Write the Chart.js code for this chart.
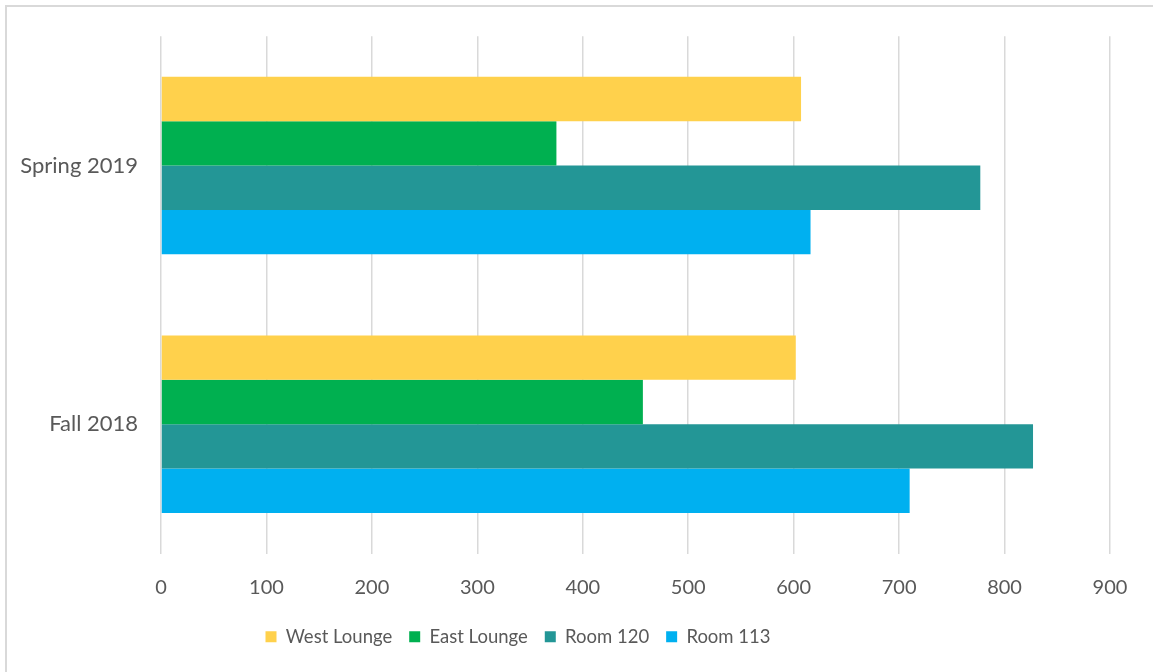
<!DOCTYPE html>
<html>
<head>
<meta charset="utf-8">
<script src="https://cdn.jsdelivr.net/npm/chart.js@4"></script>
<style>
    html, body { margin: 0; padding: 0; background: #fff; overflow: hidden; }
    #frame { position: absolute; left: 5px; top: 5px; width: 1160px; height: 700px; border: 2px solid #d9d9d9; box-sizing: border-box; }
    #wrap { position: absolute; left: 0; top: 0; width: 1153px; height: 672px; }
</style>
</head>
<body>
<div id="frame"></div>
<div id="wrap"><canvas id="chart"></canvas></div>
<script>
//Semestres (haut -> bas)
const semesters = ['Spring 2019', 'Fall 2018'];

//Valeurs par salle
const westLounge = [607, 602];
const eastLounge = [375, 457];
const room120 = [777, 827];
const room113 = [616, 710];

const xTicks = [0, 100, 200, 300, 400, 500, 600, 700, 800, 900];

const textColor = '#595959';
const fontFamily = "Lato, 'Open Sans', sans-serif";

//Décale la légende un peu vers la gauche (comme dans Excel)
const legendShift = {
    id: 'legendShift',
    afterLayout(chart) {
        if (chart.legend) {
            chart.legend.left -= 40;
            chart.legend.right -= 40;
        }
    }
};

document.addEventListener('DOMContentLoaded', () => {
    const ctx = document.getElementById('chart').getContext('2d');
    new Chart(ctx, {
        type: 'bar',
        data: {
            labels: semesters,
            datasets: [
                { label: 'West Lounge', data: westLounge, backgroundColor: '#FFD14C' },
                { label: 'East Lounge', data: eastLounge, backgroundColor: '#00B050' },
                { label: 'Room 120', data: room120, backgroundColor: '#239696' },
                { label: 'Room 113', data: room113, backgroundColor: '#00B0F0' }
            ]
        },
        options: {
            indexAxis: 'y',
            responsive: true,
            maintainAspectRatio: false,
            animation: false,
            datasets: {
                bar: { categoryPercentage: 0.686, barPercentage: 1.0, borderWidth: 0 }
            },
            layout: { padding: { left: 6, top: 31, right: 43, bottom: 16 } },
            plugins: {
                tooltip: { enabled: false },
                legend: {
                    position: 'bottom',
                    labels: {
                        boxWidth: 11,
                        boxHeight: 11,
                        padding: 17,
                        color: textColor,
                        font: { family: fontFamily, size: 18.5 }
                    }
                }
            },
            scales: {
                x: {
                    min: 0,
                    max: 900,
                    afterBuildTicks: scale => { scale.ticks = xTicks.map(v => ({ value: v })); },
                    afterFit: scale => { scale.height = 57; },
                    grid: { color: '#d9d9d9', lineWidth: 1.5, drawTicks: false },
                    border: { display: false },
                    ticks: { color: textColor, padding: 22, font: { family: fontFamily, size: 20 } }
                },
                y: {
                    afterFit: scale => { scale.width = 155; },
                    grid: { display: false, drawTicks: false },
                    border: { display: false },
                    ticks: { color: textColor, padding: 23, font: { family: fontFamily, size: 22 } }
                }
            }
        },
        plugins: [legendShift]
    });
});
</script>
</body>
</html>
